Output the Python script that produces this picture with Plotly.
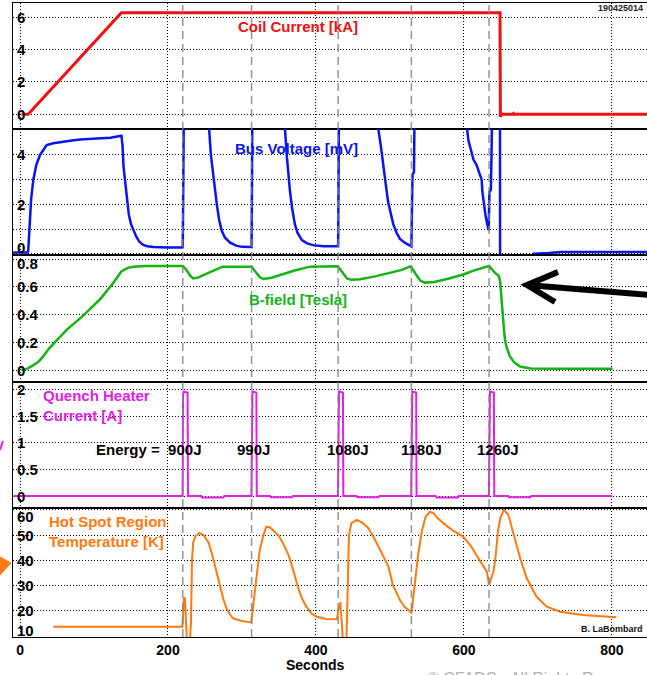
import plotly.graph_objects as go
from plotly.subplots import make_subplots

# ---------------- data ----------------
heater_times = [220, 313, 430, 529, 634]
energy_labels = ["Energy =  900J", "990J", "1080J", "1180J", "1260J"]
energy_label_t = [247.5, 315, 443, 543, 646]

coil_t = [2, 11, 137, 648.8, 649.3, 651, 666, 667, 668, 848]
coil_i = [0, 0, 6.28, 6.28, -0.15, 0, 0, 0.05, 0, 0]

bus_t = [-9.5, 10, 11, 13, 15, 18, 22, 27, 32, 36, 45, 54, 70, 81, 100, 122, 137,
         138.5, 140, 142, 144, 147, 150, 153, 157, 161, 166, 172, 180, 200, 219.5,
         220, 220.5, 221, 222, 255, 255.5, 258, 261, 263.5, 266, 269, 272.5, 277, 284, 292, 300, 312.5,
         313, 313.5, 314.5, 357.5, 358, 360.5, 362.5, 365, 368, 371.5, 375, 381, 388, 396, 410, 429.5,
         430, 430.5, 431.5, 483.5, 484, 488, 491, 494, 497.5, 501, 504.5, 509, 513.5, 520, 528.5,
         529, 529.5, 530.5, 532.5, 534, 603.5, 604.5, 606, 608, 610, 613, 617, 620, 624, 625, 626.5,
         629, 631.5, 633.5, 634.5, 636.5, 637.5, 639, 648.7, 649, 694, 694.5, 715, 730, 848]
bus_v = [0.05, 0.05, 0.1, 1.2, 2.2, 3.0, 3.6, 4.0, 4.25, 4.4, 4.47, 4.52, 4.58, 4.62, 4.66, 4.7, 4.78,
         4.4, 3.5, 2.9, 2.2, 1.6, 1.2, 0.95, 0.7, 0.5, 0.37, 0.3, 0.27, 0.25, 0.25,
         0.3, 2.8, 2.9, 8, 8, 5.1, 4.0, 3.2, 2.5, 2.0, 1.4, 0.95, 0.65, 0.45, 0.33, 0.28, 0.27,
         0.27, 2.8, 8, 8, 5.1, 4.0, 3.2, 2.5, 1.8, 1.2, 0.85, 0.55, 0.42, 0.35, 0.3, 0.3,
         0.3, 2.8, 8, 8, 5.1, 4.3, 3.7, 2.9, 2.1, 1.6, 1.2, 0.85, 0.6, 0.45, 0.32,
         0.3, 1.3, 3.2, 3.3, 8, 8, 5.0, 4.6, 4.4, 4.1, 3.8, 3.6, 3.3, 3.0, 2.5, 2.1,
         1.6, 1.2, 0.95, 2.5, 2.6, 4.3, 8, 8, -3, -3, 0.0, 0.03, 0.07, 0.07]

bfield_t = [2, 10, 18, 25, 31.5, 40, 63, 85, 108, 125, 137, 145, 153, 170, 200, 219,
            220, 225, 230, 234, 240, 250, 262, 274, 290, 312,
            313, 318, 324, 329, 340, 355, 370, 392, 410, 429,
            430, 436, 442, 448, 460, 480, 500, 515, 527,
            529, 535, 541, 547, 560, 580, 600, 615, 625, 634,
            642, 647, 649, 650.5, 652, 654, 655.5, 658, 662, 668, 676, 690, 720, 760, 801]
bfield_v = [0, 0.01, 0.036, 0.06, 0.1, 0.16, 0.29, 0.39, 0.51, 0.62, 0.71, 0.735, 0.745, 0.75, 0.75, 0.75,
            0.75, 0.72, 0.68, 0.66, 0.665, 0.69, 0.72, 0.745, 0.745, 0.748,
            0.745, 0.71, 0.67, 0.656, 0.665, 0.69, 0.715, 0.745, 0.748, 0.748,
            0.745, 0.70, 0.66, 0.65, 0.655, 0.675, 0.70, 0.72, 0.745,
            0.74, 0.69, 0.645, 0.63, 0.635, 0.66, 0.69, 0.72, 0.735, 0.75,
            0.70, 0.68, 0.64, 0.52, 0.42, 0.30, 0.22, 0.16, 0.10, 0.055, 0.025, 0.012, 0.01, 0.01, 0.01]

qh_t = [-9, 219.8, 220.3, 221.2, 226.5, 227, 245, 246, 275, 276,
        312.8, 313.3, 314.2, 319.5, 320, 338, 339, 368, 369,
        429.8, 430.3, 431.2, 436.5, 437, 455, 456, 485, 486,
        528.8, 529.3, 530.2, 535.5, 536, 562, 563, 592, 593,
        633.8, 634.3, 635.2, 640.5, 641, 660, 661, 690, 691, 800]
qh_i = [0, 0, 1.9, 1.97, 1.95, 0, 0, -0.03, -0.03, 0,
        0, 1.9, 1.97, 1.95, 0, 0, -0.025, -0.025, 0,
        0, 1.9, 1.97, 1.95, 0, 0, -0.025, -0.025, 0,
        0, 1.9, 1.97, 1.95, 0, 0, -0.03, -0.03, 0,
        0, 1.9, 1.97, 1.95, 0, 0, -0.025, -0.025, 0, 0]

temp_t = [45, 219.5, 221.5, 223, 224.5, 226, 229, 231, 232.5, 234, 237, 242, 248, 255, 261, 266, 270,
          275, 279, 284, 288, 300, 312.5, 316, 320, 324, 329, 333, 338, 343, 349, 356, 363, 370,
          376, 381, 387, 394, 401, 414, 428.5, 430, 433, 435, 437, 441, 443, 444.6, 448, 455, 462,
          471, 480, 490, 498, 504, 513.5, 520, 527, 529, 531, 534, 538, 543, 548, 554, 559, 565,
          572, 586, 599, 610, 617, 624, 631, 634, 637, 640, 643, 646, 649, 654, 660, 667, 676,
          685, 698, 712, 730, 761, 806]
temp_k = [13.8, 13.8, 25.3, 25, 15, 5, 5, 15, 40, 47, 49.5, 50.7, 50, 47, 40.8, 35, 29.6,
          24.5, 21, 18.5, 17.1, 16, 15.5, 25, 35.5, 44, 50, 53.3, 53, 51.8, 50, 46.5, 42, 35.5,
          29, 25, 21.7, 19, 17.7, 16.8, 16.7, 20, 23.4, 15, 5, 5, 25, 50, 54.7, 56, 55,
          52.7, 48, 42, 37.5, 30.3, 24.3, 21.5, 20, 19, 25, 31.6, 42, 51.3, 57, 59.2, 58.6, 56.5,
          54.7, 51.6, 49.4, 45.4, 42, 38.8, 35.5, 30.3, 33, 35.5, 42, 51.3, 56.6, 59.9, 58, 50, 40.8,
          32.9, 25.7, 21.7, 19.7, 18.4, 17.5]

x_ticks = [0, 200, 400, 600, 800]
y_grids = [[0, 2, 4, 6], [0, 1, 2, 3, 4], [0, 0.2, 0.4, 0.6, 0.8], [0, 0.5, 1, 1.5, 2], [10, 20, 30, 40, 50, 60]]
y_labels = [[0, 2, 4, 6], [0, 2, 4], [0, 0.2, 0.4, 0.6, 0.8], [0, 0.5, 1, 1.5, 2], [10, 20, 30, 40, 50, 60]]
y_label_text = [["0", "2", "4", "6"], ["0", "2", "4"], ["0", "0.2", "0.4", "0.6", "0.8"],
                ["0", "0.5", "1", "1.5", "2"], ["10", "20", "30", "40", "50", "60"]]
y_label_shift = [[0, 0, 0, 0], [6, 0, 0], [0, 0, 0, 0, -4], [0, 0, 0, 0, 0], [6, 0, 0, 0, 0, -7]]
y_ranges = [[-0.91, 6.88], [-0.05, 5.05], [-0.086, 0.829], [-0.226, 2.15], [9.72, 60.67]]

# ---------------- styling ----------------
W, H = 647, 675
ML, MT, MR, MB = 13, 3, 0, 38
PW, PH = W - ML - MR, H - MT - MB
FONT = "Liberation Sans, Arial, sans-serif"
RED, BLUE, GREEN, MAG, ORANGE = "#ee1111", "#0a14f0", "#14b414", "#e020e8", "#ff7a10"


def px(x):
    return (x - ML) / PW


def py(y):
    return (MT + PH - y) / PH


fig = make_subplots(rows=5, cols=1, shared_xaxes=True, vertical_spacing=0,
                    row_heights=[126, 126, 127, 126, 129])

series = [(coil_t, coil_i, RED, 3), (bus_t, bus_v, BLUE, 2.5), (bfield_t, bfield_v, GREEN, 2.5),
          (qh_t, qh_i, MAG, 2), (temp_t, temp_k, ORANGE, 2)]
for r, (tt, vv, col, w) in enumerate(series, start=1):
    fig.add_trace(go.Scatter(x=tt, y=vv, mode="lines", line=dict(color=col, width=w),
                             hoverinfo="skip", showlegend=False), row=r, col=1)

for r in range(1, 6):
    fig.update_yaxes(range=y_ranges[r - 1], tickvals=y_grids[r - 1], showticklabels=False,
                     showgrid=True, gridcolor="black", gridwidth=1, griddash="1px,2px",
                     zeroline=False, showline=True, mirror=True, linecolor="black", linewidth=1,
                     ticks="", row=r, col=1)
    fig.update_xaxes(range=[-9.5, 847.5], tickvals=x_ticks, showgrid=True, gridcolor="black",
                     gridwidth=1, griddash="1px,2px", zeroline=False, showline=True, mirror=True,
                     linecolor="black", linewidth=1, ticks="", row=r, col=1)
fig.update_xaxes(showticklabels=True, tickfont=dict(family=FONT, size=14, color="black", weight="bold"),
                 row=5, col=1)

# y tick labels drawn inside the panels
for r in range(5):
    yref = "y" if r == 0 else f"y{r + 1}"
    for v, txt, sh in zip(y_labels[r], y_label_text[r], y_label_shift[r]):
        fig.add_annotation(x=px(15), xref="paper", y=v, yref=yref, text=f"<b>{txt}</b>",
                           xanchor="left", yanchor="middle", showarrow=False, yshift=sh,
                           font=dict(family=FONT, size=15, color="black"))

# dashed markers at heater firing times
for t in heater_times:
    fig.add_shape(type="line", xref="x5", yref="paper", x0=t, x1=t, y0=0, y1=1, layer="above",
                  line=dict(color="rgba(130,130,130,0.85)", width=1.5, dash="8px,5px"))


def label(text, x, y, color, size=15, xanchor="center", align="center"):
    fig.add_annotation(x=px(x), y=py(y), xref="paper", yref="paper", text=text, showarrow=False,
                       xanchor=xanchor, yanchor="middle", align=align,
                       font=dict(family=FONT, size=size, color=color))


label("<b>Coil Current [kA]</b>", 298, 27, RED)
label("<b>Bus Voltage [mV]</b>", 296, 148, BLUE)
label("<b>B-field [Tesla]</b>", 298, 299, GREEN)
label("<b>Quench Heater<br>Current [A]</b>", 41, 405, MAG, xanchor="left", align="left")
label("<b>Hot Spot Region<br>Temperature [K]</b>", 47, 531, ORANGE, xanchor="left", align="left")
label("<b>190425014</b>", 645, 8, "#222222", size=9, xanchor="right")
label("<b>B. LaBombard</b>", 645, 629, "#111111", size=9, xanchor="right")
label("<b>Seconds</b>", 315, 665, "black", size=14)
label("© CFADS · All Rights Reserved", 425, 678, "#b0b0b0", size=16, xanchor="left")

for i, (txt, t) in enumerate(zip(energy_labels, energy_label_t)):
    fig.add_annotation(x=t, y=0.87, xref="x4", yref="y4", text=f"<b>{txt}</b>", showarrow=False,
                       xanchor="right" if i == 0 else "center", yanchor="middle",
                       font=dict(family=FONT, size=15, color="black"))


def path(points, close=False):
    s = "M " + " L ".join(f"{px(a):.4f},{py(b):.4f}" for a, b in points)
    return s + (" Z" if close else "")


# black arrow pointing at B-field drop
fig.add_shape(type="path", xref="paper", yref="paper", path=path([(650, 295), (527, 285)]),
              line=dict(color="black", width=6))
fig.add_shape(type="path", xref="paper", yref="paper", path=path([(558, 272), (527, 285), (555, 302)]),
              line=dict(color="black", width=6))
# cropped pieces at left edge
fig.add_shape(type="path", xref="paper", yref="paper", path=path([(0, 557), (11, 563), (0, 575)], True),
              fillcolor=ORANGE, line=dict(color=ORANGE, width=1))
fig.add_shape(type="path", xref="paper", yref="paper", path=path([(0, 450), (3, 441)]),
              line=dict(color=MAG, width=2))

fig.update_layout(width=W, height=H, margin=dict(l=ML, r=MR, t=MT, b=MB, autoexpand=False),
                  paper_bgcolor="white", plot_bgcolor="white", showlegend=False,
                  font=dict(family=FONT, color="black"))

fig.write_html("out.html", config={"displayModeBar": False},
               post_script="document.body.style.margin='0';")
